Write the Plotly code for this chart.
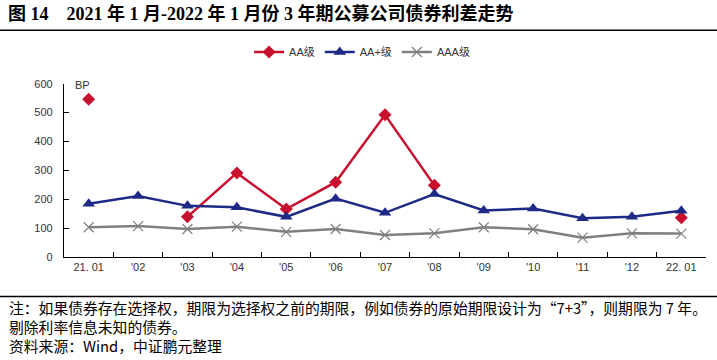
import plotly.graph_objects as go

categories = ["21. 01", "'02", "'03", "'04", "'05", "'06", "'07", "'08", "'09", "'10", "'11", "'12", "22. 01"]
aa = [546, None, 139, 291, 166, 259, 492, 248, None, None, None, None, 136]
aa_plus = [184, 211, 177, 172, 139, 202, 153, 218, 161, 168, 134, 139, 160]
aaa = [103, 107, 97, 105, 87, 97, 76, 82, 103, 96, 67, 82, 81]
y_ticks = [0, 100, 200, 300, 400, 500, 600]

W, H = 717, 360
L, R, T, B = 64, 11, 82, 103
pw = W - L - R
ph = H - T - B

def px(x):
    return (x - L) / pw

def py(y):
    return (H - B - y) / ph

fig = go.Figure()
fig.add_trace(go.Scatter(
    x=categories, y=aa, name="AA级", mode="lines+markers",
    line=dict(color="#C8102E", width=2.5),
    marker=dict(symbol="diamond", size=10, color="#C8102E"),
    connectgaps=False))
fig.add_trace(go.Scatter(
    x=categories, y=aa_plus, name="AA+级", mode="lines+markers",
    line=dict(color="#1F2A86", width=2.5),
    marker=dict(symbol="triangle-up", size=11, color="#1F2A86")))
fig.add_trace(go.Scatter(
    x=categories, y=aaa, name="AAA级", mode="lines+markers",
    line=dict(color="#808080", width=2.5),
    marker=dict(symbol="x-thin", size=10, color="#808080",
                line=dict(color="#808080", width=1.2))))

fig.update_layout(
    width=W, height=H,
    margin=dict(l=L, r=R, t=T, b=B),
    paper_bgcolor="white", plot_bgcolor="white",
    font=dict(family="Arial, Liberation Sans, Noto Sans CJK SC", size=11, color="#333333"),
    title=dict(
        text="<b>图 14    2021 年 1 月-2022 年 1 月份 3 年期公募公司债券利差走势</b>",
        xref="container", yref="container", x=8 / W, xanchor="left",
        y=1 - 14 / H, yanchor="middle",
        font=dict(family="Liberation Serif, Noto Sans CJK SC", size=18, color="#000000")),
    legend=dict(orientation="h", xref="container", yref="container",
                x=0.505, xanchor="center", y=1 - 52 / H, yanchor="middle",
                font=dict(size=11, color="#333333"), itemwidth=30,
                bgcolor="rgba(0,0,0,0)"),
    xaxis=dict(type="category", range=[-0.5, len(categories) - 0.5],
               showline=True, linecolor="#000000", linewidth=1.3,
               ticks="inside", ticklen=5, tickcolor="#000000", tickson="boundaries",
               showgrid=False, zeroline=False,
               tickfont=dict(size=11, color="#333333")),
    yaxis=dict(range=[0, 600], tickvals=y_ticks,
               showline=True, linecolor="#000000", linewidth=1.3,
               ticks="inside", ticklen=5, tickcolor="#000000",
               showgrid=False, zeroline=False, ticklabelstandoff=8,
               tickfont=dict(size=11, color="#333333")),
    showlegend=True,
)

# separator lines
fig.add_shape(type="line", xref="paper", yref="paper",
              x0=px(0), x1=px(W), y0=py(28), y1=py(28),
              line=dict(color="#000000", width=1.5))
fig.add_shape(type="line", xref="paper", yref="paper",
              x0=px(0), x1=px(W), y0=py(297), y1=py(297),
              line=dict(color="#000000", width=1.5))

fig.add_annotation(text="BP", xref="paper", yref="paper", x=px(82), y=py(83),
                   xanchor="center", yanchor="middle", showarrow=False,
                   font=dict(size=11, color="#333333"))

notes = [
    "注：如果债券存在选择权，期限为选择权之前的期限，例如债券的原始期限设计为“7+3”，则期限为 7 年。",
    "剔除利率信息未知的债券。",
    "资料来源：Wind，中证鹏元整理",
]
fig.add_annotation(text="<br>".join(notes), xref="paper", yref="paper", x=px(7), y=py(327),
                   xanchor="left", yanchor="middle", align="left", showarrow=False,
                   font=dict(family="Noto Sans CJK SC", size=14.8, color="#000000"))

fig.write_html(
    "out.html",
    config={"displayModeBar": False},
    post_script="document.body.style.margin='0';document.body.style.padding='0';document.body.style.overflow='hidden';",
)
